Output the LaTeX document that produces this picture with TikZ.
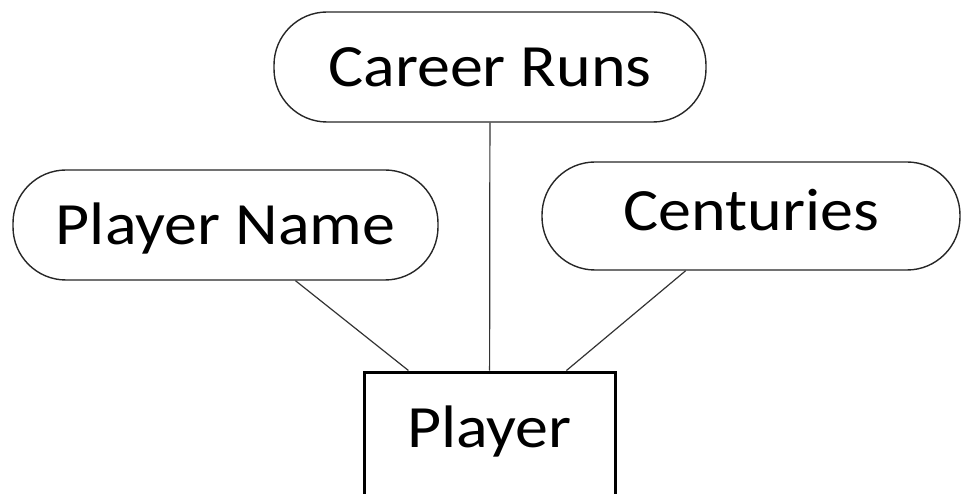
\documentclass[tikz,border=0pt]{standalone}
\usepackage{fontspec}
\setmainfont{Carlito}
\newfontfamily\lblfont[FakeStretch=1.1]{Carlito}
\begin{document}
\begin{tikzpicture}[x=1pt,y=-1pt,
  attr/.style={draw=black!85, line width=1.4pt, rounded corners=53pt, inner sep=0pt,
    font=\lblfont\fontsize{60}{72}\selectfont, text height=38.6pt, text depth=0pt},
  entity/.style={draw=black, line width=3pt, inner sep=0pt,
    font=\lblfont\fontsize{60}{72}\selectfont, text height=38.6pt, text depth=14.6pt},
  conn/.style={draw=black!80, line width=1.2pt}]
\useasboundingbox (0,0) rectangle (961,494);
\node[attr, minimum width=432pt, minimum height=110pt] (cr) at (490,67) {Career Runs};
\node[attr, minimum width=425pt, minimum height=110pt] (pn) at (225.5,225) {Player Name};
\node[attr, minimum width=418pt, minimum height=108pt, text depth=10pt] (ce) at (751,216) {Centuries};
\node[entity, minimum width=251pt, minimum height=126pt] (pl) at (489.5,435) {Player};
\draw[conn] (cr) -- (pl);
\draw[conn] (pn) -- (pl);
\draw[conn] (ce) -- (pl);
\end{tikzpicture}
\end{document}
